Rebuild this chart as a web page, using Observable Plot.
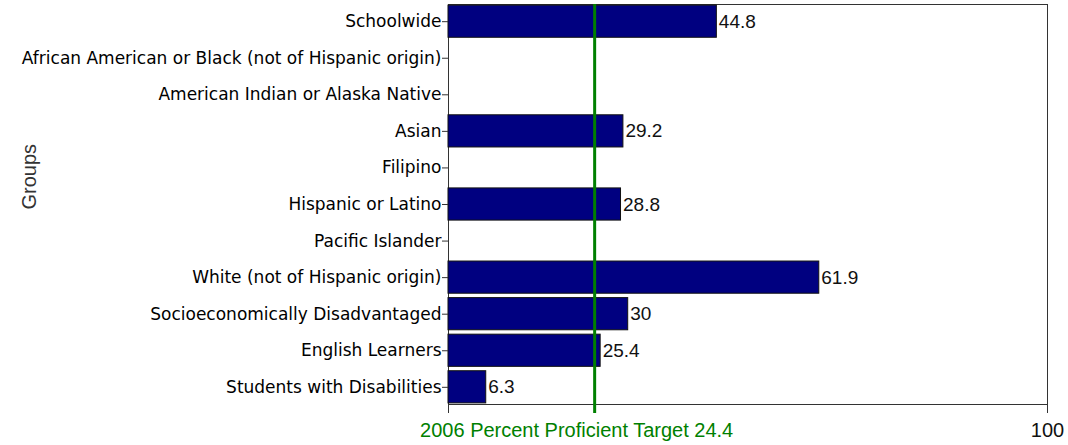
<!DOCTYPE html>
<html><head><meta charset="utf-8">
<script src="https://cdn.jsdelivr.net/npm/d3@7"></script>
<script src="https://cdn.jsdelivr.net/npm/@observablehq/plot@0.6"></script>
<style>
body{margin:0;background:#fff;}
svg{display:block;}
</style></head>
<body><div id="chart"></div>
<script>
const groups = ["Schoolwide","African American or Black (not of Hispanic origin)","American Indian or Alaska Native","Asian","Filipino","Hispanic or Latino","Pacific Islander","White (not of Hispanic origin)","Socioeconomically Disadvantaged","English Learners","Students with Disabilities"];
const values = [44.8, null, null, 29.2, null, 28.8, null, 61.9, 30, 25.4, 6.3];
const target = 24.4;
const targetLabel = "2006 Percent Proficient Target 24.4";
const yTitle = "Groups";

const data = groups.map((g,i)=>({group:g, value:values[i]})).filter(d=>d.value!=null);

const chart = Plot.plot({
  width:1068, height:445,
  marginLeft:448, marginRight:21, marginTop:4, marginBottom:41,
  style:{fontFamily:"Arial, 'Liberation Sans', sans-serif", background:"#fff", overflow:"visible"},
  x:{domain:[0,100], axis:null},
  y:{domain:groups, paddingInner:0.12, paddingOuter:0.03, round:false, axis:null},
  marks:[
    Plot.frame({stroke:"#333", strokeWidth:1}),
    Plot.barX(data,{y:"group", x:"value", fill:"#000080", stroke:"#111", strokeWidth:1}),
    Plot.text(data,{y:"group", x:"value", text:d=>String(d.value), textAnchor:"start", dx:2, fontSize:19, fill:"#111"}),
    Plot.axisY({tickSize:6, tickPadding:1, fontSize:17, fontFamily:"'DejaVu Sans',sans-serif", fill:"#000", label:null, stroke:"#333"}),
    Plot.axisX([0,100],{tickSize:9, tickFormat:()=>"", label:null, stroke:"#333"}),
    Plot.ruleX([target],{stroke:"#008000", strokeWidth:3, insetBottom:-9}),
    Plot.text([targetLabel],{x:target, frameAnchor:"bottom", dy:32, dx:-18, fill:"#008000", fontSize:20, lineAnchor:"bottom"}),
    Plot.text(["100"],{x:100, frameAnchor:"bottom", dy:32, dx:0, fill:"#111", fontSize:20, lineAnchor:"bottom"}),
    Plot.text([yTitle],{frameAnchor:"left", dx:-419, dy:5, rotate:-90, fontSize:20, fill:"#333"})
  ]
});
document.getElementById("chart").appendChild(chart);
</script></body></html>
